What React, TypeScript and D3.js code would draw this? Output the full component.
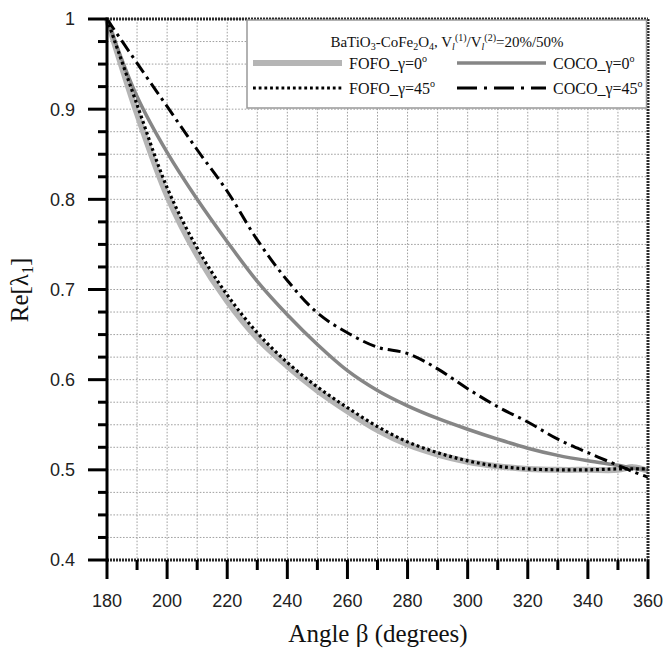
import React from 'react';
import * as d3 from 'd3';

// angle beta (degrees)
const angles = [180, 190, 200, 210, 220, 230, 240, 250, 260, 270, 280, 290, 300, 310, 320, 330, 340, 350, 355, 360];
const fofo0 = [1.0, 0.895, 0.804, 0.738, 0.687, 0.646, 0.615, 0.588, 0.565, 0.544, 0.528, 0.517, 0.509, 0.504, 0.501, 0.5, 0.5, 0.5, 0.503, 0.499];
const fofo45 = [1.0, 0.905, 0.813, 0.746, 0.694, 0.652, 0.619, 0.592, 0.569, 0.548, 0.531, 0.519, 0.51, 0.504, 0.501, 0.5, 0.5, 0.501, 0.501, 0.501];
const coco0 = [1.0, 0.914, 0.852, 0.8, 0.753, 0.709, 0.672, 0.639, 0.61, 0.588, 0.571, 0.557, 0.545, 0.534, 0.524, 0.516, 0.51, 0.505, 0.502, 0.5];
const coco45 = [1.0, 0.951, 0.903, 0.855, 0.809, 0.755, 0.71, 0.674, 0.652, 0.636, 0.629, 0.612, 0.59, 0.57, 0.553, 0.534, 0.519, 0.505, 0.498, 0.492];

const xMajor = d3.range(180, 361, 20);
const xMinor = d3.range(190, 360, 20);
const yMajor = [0.4, 0.5, 0.6, 0.7, 0.8, 0.9, 1];
const yGrid = d3.range(0, 25).map(i => 0.4 + i * 0.025);

const W = 665;
const H = 649;
const serif = '"Liberation Serif", "Times New Roman", serif';
const sans = '"Liberation Sans", Arial, sans-serif';

const x = d3.scaleLinear().domain([180, 360]).range([107, 648]);
const y = d3.scaleLinear().domain([0.4, 1]).range([560, 19]);

const series = [
    { name: 'FOFO_γ=0', values: fofo0, stroke: '#b5b5b5', width: 6, dash: null, legendDash: null },
    { name: 'COCO_γ=0', values: coco0, stroke: '#868686', width: 3.5, dash: null, legendDash: null },
    { name: 'FOFO_γ=45', values: fofo45, stroke: '#000', width: 3.2, dash: '2.8 2.9', legendDash: '2.8 2.9' },
    { name: 'COCO_γ=45', values: coco45, stroke: '#000', width: 3, dash: '13 5 3 5', legendDash: '20 7 3 7' },
];

const lineGen = d3.line<[number, number]>()
    .x(d => x(d[0]))
    .y(d => y(d[1]))
    .curve(d3.curveCatmullRom.alpha(0.5));

export default function App() {
    const [x0, x1] = x.range();
    const [yb, yt] = y.range();
    return (
        <svg width={W} height={H} style={{ position: 'absolute', left: 0, top: 0, background: '#fff' }}>
            {/* grid */}
            <g stroke="#a0a0a0" strokeWidth={1} strokeDasharray="1.6 1.6">
                {d3.range(190, 360, 10).map(v => (
                    <line key={'gx' + v} x1={x(v)} x2={x(v)} y1={yt} y2={yb} />
                ))}
                {yGrid.slice(1).map((v, i) => (
                    <line key={'gy' + i} x1={x0} x2={x1} y1={y(v)} y2={y(v)} />
                ))}
            </g>

            {/* curves */}
            <g fill="none">
                {series.map(s => (
                    <path
                        key={s.name}
                        d={lineGen(angles.map((a, i) => [a, s.values[i]]) as [number, number][]) || ''}
                        stroke={s.stroke}
                        strokeWidth={s.width}
                        strokeDasharray={s.dash || undefined}
                    />
                ))}
            </g>

            {/* frame */}
            <g stroke="#2a2a2a" strokeWidth={3} strokeDasharray="2 1">
                <line x1={x0} x2={x1} y1={yt} y2={yt} />
                <line x1={x1} x2={x1} y1={yt} y2={yb} />
                <line x1={x0} x2={x1} y1={yb} y2={yb} />
            </g>
            <line x1={x0} x2={x0} y1={yt - 1.5} y2={yb + 1.5} stroke="#000" strokeWidth={3} />

            {/* ticks */}
            <g stroke="#000" strokeWidth={3}>
                {yGrid.map((v, i) => {
                    const major = i % 4 === 0;
                    return <line key={'ty' + i} x1={x0 - (major ? 19 : 9)} x2={x0} y1={y(v)} y2={y(v)} />;
                })}
                {xMajor.map(v => (
                    <line key={'tx' + v} x1={x(v)} x2={x(v)} y1={yb} y2={yb + 19} />
                ))}
                {xMinor.map(v => (
                    <line key={'tm' + v} x1={x(v)} x2={x(v)} y1={yb} y2={yb + 10} />
                ))}
            </g>
            <g fontFamily={sans} fontSize={18} fill="#222">
                {yMajor.map(v => (
                    <text key={'ly' + v} x={75} y={y(v)} dy="0.36em" textAnchor="end">{d3.format('')(+v.toFixed(1))}</text>
                ))}
                {xMajor.map(v => (
                    <text key={'lx' + v} x={x(v)} y={607} textAnchor="middle">{v}</text>
                ))}
            </g>

            {/* axis titles */}
            <text x={378} y={642} textAnchor="middle" fontFamily={serif} fontSize={25} fill="#111">Angle β (degrees)</text>
            <text transform="translate(28,290) rotate(-90)" textAnchor="middle" fontFamily={serif} fontSize={25} fill="#111">
                Re[λ<tspan fontSize={16} dy={5}>1</tspan><tspan dy={-5}>]</tspan>
            </text>

            {/* legend */}
            <g>
                <rect x={247} y={yt + 1} width={x1 - 248.5} height={88} fill="#fff" stroke="#999" strokeWidth={1.5} />
                <text x={447} y={47} textAnchor="middle" fontFamily={serif} fontSize={15} fill="#111">
                    BaTiO<tspan fontSize={10} dy={3}>3</tspan>
                    <tspan dy={-3}>-CoFe</tspan><tspan fontSize={10} dy={3}>2</tspan>
                    <tspan dy={-3}>O</tspan><tspan fontSize={10} dy={3}>4</tspan>
                    <tspan dy={-3}>, V</tspan><tspan fontSize={10} dy={3} fontStyle="italic">l</tspan>
                    <tspan fontSize={10} dy={-9}>(1)</tspan>
                    <tspan dy={6}>/V</tspan><tspan fontSize={10} dy={3} fontStyle="italic">l</tspan>
                    <tspan fontSize={10} dy={-9}>(2)</tspan>
                    <tspan dy={6}>=20%/50%</tspan>
                </text>
                {series.map((s, i) => {
                    const col = i % 2;
                    const row = Math.floor(i / 2);
                    const lx = col === 0 ? 253 : 457;
                    const ly = 63 + row * 25;
                    return (
                        <g key={'lg' + s.name}>
                            <line x1={lx} x2={lx + 89} y1={ly} y2={ly} stroke={s.stroke} strokeWidth={s.width}
                                strokeDasharray={s.legendDash || undefined} />
                            <text x={lx + 96} y={ly + 6} fontFamily={serif} fontSize={16} fill="#111">
                                {s.name}<tspan fontSize={10} dy={-7}>o</tspan>
                            </text>
                        </g>
                    );
                })}
            </g>
        </svg>
    );
}
